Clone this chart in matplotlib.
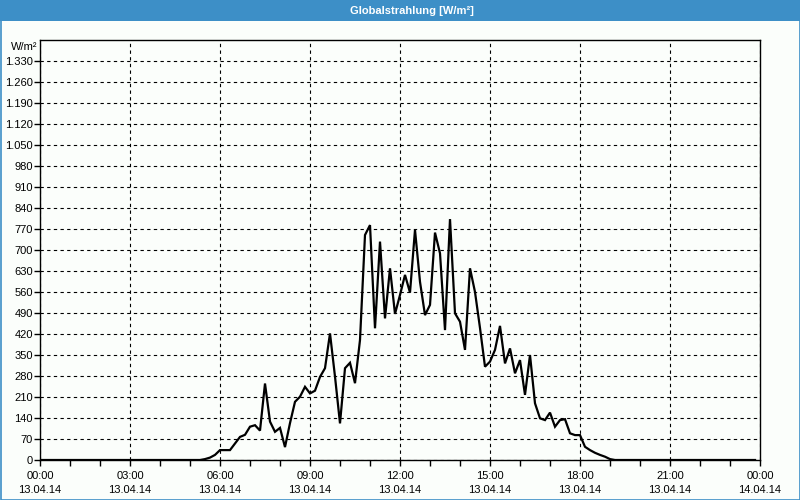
import matplotlib
matplotlib.use("Agg")
import matplotlib.pyplot as plt
import matplotlib.dates as mdates
from matplotlib.patches import Rectangle
import pandas as pd

plt.rcParams["font.family"] = ["Liberation Sans", "DejaVu Sans"]

# 10-minute values of global radiation, 13.04.14 00:00 .. 23:50
night_before = [0] * 32
day = [0, 3, 8, 17, 33, 33, 33, 55, 77, 84, 111, 116, 98, 255, 128, 94,
       107, 43, 123, 194, 211, 244, 222, 231, 277, 306, 422, 278, 122, 306,
       324, 256, 400, 750, 783, 439, 728, 472, 639, 487, 550, 617, 558, 767,
       594, 483, 517, 758, 689, 433, 803, 489, 461, 367, 639, 560, 440, 311,
       328, 367, 447, 322, 372, 289, 333, 217, 350, 189, 139, 133, 158, 111,
       133, 136, 89, 83, 83, 44, 33, 24, 17, 11, 3]
values = night_before + day
values = values + [0] * (144 - len(values))
times = pd.date_range("2014-04-13 00:00", periods=len(values), freq="10min")

title = "Globalstrahlung [W/m²]"
unit = "W/m²"
y_ticks = list(range(0, 1400, 70))

blue = "#3d8fc7"
bg = "#fbfefb"

fig = plt.figure(figsize=(8, 5), dpi=100, facecolor=bg)
ax = fig.add_axes([0.05, 0.08, 0.90, 0.84], facecolor=bg)

# title bar and thin frame around the figure
fig.patches.append(Rectangle((0, 1 - 21 / 500), 1, 21 / 500, transform=fig.transFigure,
                             facecolor=blue, edgecolor="none", zorder=0))
fig.patches.append(Rectangle((0.5 / 800, 0.5 / 500), 1 - 1 / 800, 1 - 1 / 500,
                             transform=fig.transFigure, facecolor="none",
                             edgecolor=blue, linewidth=1.2, zorder=0))
fig.text(412 / 800, 1 - 10.5 / 500, title, color="white", ha="center", va="center",
         fontsize=8, fontweight="bold")

ax.plot(times, values, color="black", linewidth=1.6, solid_joinstyle="miter")

ax.set_xlim(pd.Timestamp("2014-04-13 00:00"), pd.Timestamp("2014-04-14 00:00"))
ax.set_ylim(0, 1400)

ax.xaxis.set_major_locator(mdates.HourLocator(byhour=range(0, 24, 3)))
ax.xaxis.set_minor_locator(mdates.HourLocator())
ax.xaxis.set_major_formatter(mdates.DateFormatter("%H:%M\n%d.%m.%y"))
ax.set_yticks(y_ticks)
ax.set_yticklabels([f"{v:,}".replace(",", ".") for v in y_ticks])

ax.tick_params(axis="both", which="both", direction="out", length=4, width=1,
               labelsize=8, color="black")
ax.tick_params(axis="x", pad=4)
ax.tick_params(axis="y", pad=1)
for lab in ax.get_xticklabels():
    lab.set_linespacing(1.45)

ax.grid(True, which="major", color="black", linestyle=(0, (3, 3)), linewidth=0.8)
for sp in ax.spines.values():
    sp.set_color("black")
    sp.set_linewidth(1)

ax.text(-0.004, 1394, unit, transform=ax.get_yaxis_transform(), ha="right",
        va="top", fontsize=8)

fig.savefig("out.png", dpi=100, facecolor=bg)
